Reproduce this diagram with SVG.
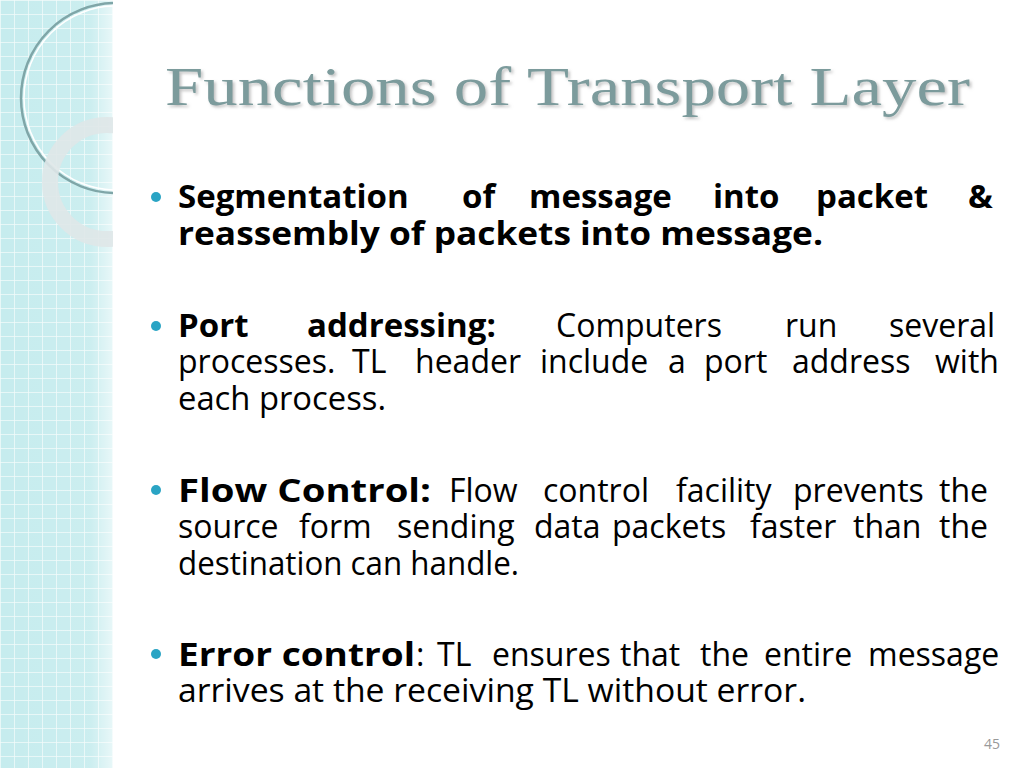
<svg xmlns="http://www.w3.org/2000/svg" width="1024" height="768" viewBox="0 0 1024 768">
<defs>
<pattern id="grid" width="14" height="14" patternUnits="userSpaceOnUse">
<rect width="14" height="14" fill="#c6ecee"/>
<path d="M0 0H14M0 0V14" stroke="#f2fbfb" stroke-width="1.5"/>
</pattern>
<linearGradient id="fade" x1="0" x2="1">
<stop offset="0" stop-color="#fff" stop-opacity="0"/>
<stop offset="0.8" stop-color="#fff" stop-opacity="0.1"/>
<stop offset="1" stop-color="#fff" stop-opacity="0.6"/>
</linearGradient>
<clipPath id="cp"><rect width="113" height="768"/></clipPath>
<filter id="sh"><feDropShadow dx="2" dy="2" stdDeviation="1.5" flood-color="#999" flood-opacity="0.6"/></filter>
</defs>
<style>
.b{font-family:"Open Sans","Lato",sans-serif;font-size:32px;fill:#000}
.bd{font-weight:bold;font-size:33px}
.dot{fill:#2aa4c4}
</style>
<rect width="1024" height="768" fill="#fff"/>
<g id="panel" clip-path="url(#cp)">
<rect width="113" height="768" fill="url(#grid)"/>
<rect width="113" height="768" fill="url(#fade)"/>
<circle cx="116" cy="98" r="95" fill="none" stroke="#7fa6a8" stroke-width="2.5"/>
<circle cx="116" cy="98" r="92" fill="none" stroke="#fff" stroke-width="1.5"/>
<circle cx="107" cy="182" r="57" fill="none" stroke="#dfe7e8" stroke-width="16" opacity="0.9"/>
</g>
<text x="165" y="105" font-family="Liberation Serif,serif" font-size="54" fill="#7b9b9c" filter="url(#sh)" textLength="805" lengthAdjust="spacingAndGlyphs">Functions of Transport  Layer</text>
<g id="bullets">
<circle class="dot" cx="156" cy="197" r="5"/>
<circle class="dot" cx="156" cy="326" r="5"/>
<circle class="dot" cx="156" cy="490" r="5"/>
<circle class="dot" cx="156" cy="654" r="5"/>
</g>
<g id="b1" class="b">
<text class="bd" x="178" y="208">Segmentation</text>
<text class="bd" x="462" y="208">of</text>
<text class="bd" x="529" y="208">message</text>
<text class="bd" x="713" y="208">into</text>
<text class="bd" x="816" y="208">packet</text>
<text class="bd" x="968" y="208">&amp;</text>
<text class="bd" x="178" y="245" textLength="645" lengthAdjust="spacingAndGlyphs">reassembly of packets into message.</text>
</g>
<g id="b2" class="b">
<text class="bd" x="178" y="337">Port</text>
<text class="bd" x="307" y="337">addressing:</text>
<text x="556" y="337">Computers</text>
<text x="785" y="337">run</text>
<text x="889" y="337">several</text>
<text x="178" y="373">processes.</text>
<text x="352" y="373">TL</text>
<text x="415" y="373">header</text>
<text x="540" y="373">include</text>
<text x="668" y="373">a</text>
<text x="704" y="373">port</text>
<text x="792" y="373">address</text>
<text x="935" y="373">with</text>
<text x="178" y="410" textLength="208" lengthAdjust="spacingAndGlyphs">each process.</text>
</g>
<g id="b3" class="b">
<text class="bd" x="178" y="502" textLength="253" lengthAdjust="spacingAndGlyphs">Flow  Control:</text>
<text x="449" y="502">Flow</text>
<text x="543" y="502">control</text>
<text x="676" y="502">facility</text>
<text x="793" y="502">prevents</text>
<text x="939" y="502">the</text>
<text x="178" y="538">source</text>
<text x="299" y="538">form</text>
<text x="397" y="538">sending</text>
<text x="534" y="538">data</text>
<text x="612" y="538">packets</text>
<text x="750" y="538">faster</text>
<text x="853" y="538">than</text>
<text x="939" y="538">the</text>
<text x="178" y="575" textLength="341" lengthAdjust="spacingAndGlyphs">destination can handle.</text>
</g>
<g id="b4" class="b">
<text class="bd" x="178" y="666" textLength="237" lengthAdjust="spacingAndGlyphs">Error control</text>
<text x="416" y="666">:</text>
<text x="437" y="666">TL</text>
<text x="492" y="666">ensures</text>
<text x="620" y="666">that</text>
<text x="700" y="666">the</text>
<text x="764" y="666">entire</text>
<text x="868" y="666">message</text>
<text x="178" y="702" textLength="628" lengthAdjust="spacingAndGlyphs">arrives at the receiving TL without error.</text>
</g>
<text x="1000" y="749" text-anchor="end" font-family="Open Sans,sans-serif" font-size="14" fill="#999">45</text>
</svg>
